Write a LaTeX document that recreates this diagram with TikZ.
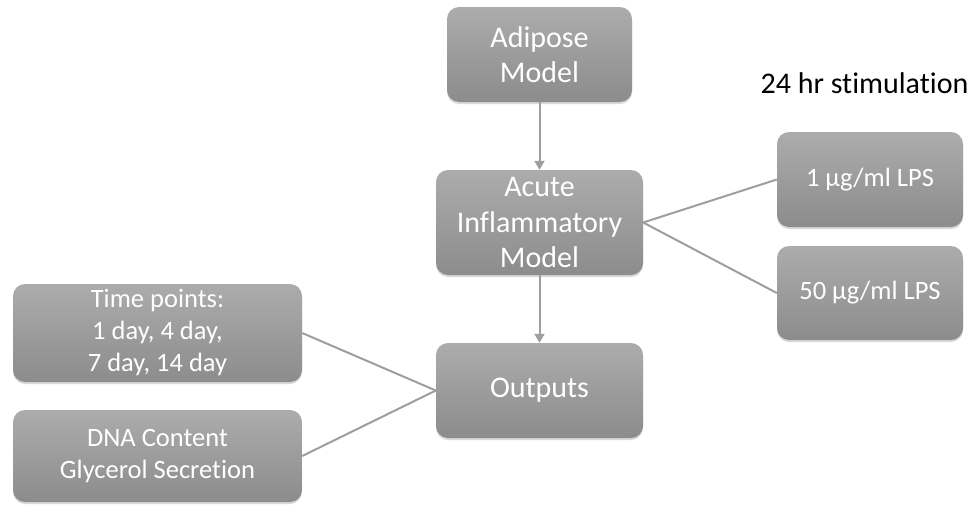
\documentclass[tikz,border=0pt]{standalone}
\usepackage{fontspec}
\setmainfont{Carlito}[Ligatures=NoCommon]
\usetikzlibrary{shadows,arrows.meta}
\definecolor{boxtop}{RGB}{172,172,172}
\definecolor{boxbot}{RGB}{140,140,140}
\definecolor{linegray}{RGB}{158,158,158}
\begin{document}
\begin{tikzpicture}
  [x=1pt,y=-1pt,
   box/.style={rectangle,rounded corners=12pt,top color=boxtop,bottom color=boxbot,
     drop shadow={opacity=.3,shadow xshift=0pt,shadow yshift=-2pt},
     text=white,align=center,inner sep=0pt},
   link/.style={draw=linegray,line width=2pt}]
  \useasboundingbox (0,0) rectangle (972,504);
  \node[box,minimum width=185pt,minimum height=95pt,font=\fontsize{30}{35}\selectfont] (adipose) at (539.5,54.5) {Adipose\\Model};
  \node[box,minimum width=207pt,minimum height=105pt,font=\fontsize{30}{35.5}\selectfont] (acute) at (539.5,222.5) {Acute\\Inflammatory\\Model};
  \node[box,minimum width=207pt,minimum height=95pt,font=\fontsize{30}{35}\selectfont] (outputs) at (539.5,390.5) {Outputs};
  \node[box,minimum width=186pt,minimum height=95pt,font=\fontsize{26.5}{32}\selectfont] (lps1) at (870,179.5) {1 µg/ml LPS};
  \node[box,minimum width=186pt,minimum height=94pt,font=\fontsize{26.5}{32}\selectfont] (lps50) at (870,293) {50 µg/ml LPS};
  \node[box,minimum width=289pt,minimum height=98pt,font=\fontsize{26.5}{32}\selectfont] (timepts) at (157.5,333) {Time points:\\1 day, 4 day,\\7 day, 14 day};
  \node[box,minimum width=289pt,minimum height=92pt,font=\fontsize{26.5}{32}\selectfont] (dna) at (157.5,456) {DNA Content\\Glycerol Secretion};
  \node[font=\fontsize{30}{36}\selectfont] (stim) at (864.5,83) {24 hr stimulation};

  \foreach \from/\to in {adipose/acute,acute/outputs}
    \draw[link,-{Triangle[width=10pt,length=9pt]}] (\from.south) -- (\to.north);
  \foreach \from/\to in {acute.east/lps1.west,acute.east/lps50.west,outputs.west/timepts.east,outputs.west/dna.east}
    \draw[link] (\from) -- (\to);

\end{tikzpicture}
\end{document}
